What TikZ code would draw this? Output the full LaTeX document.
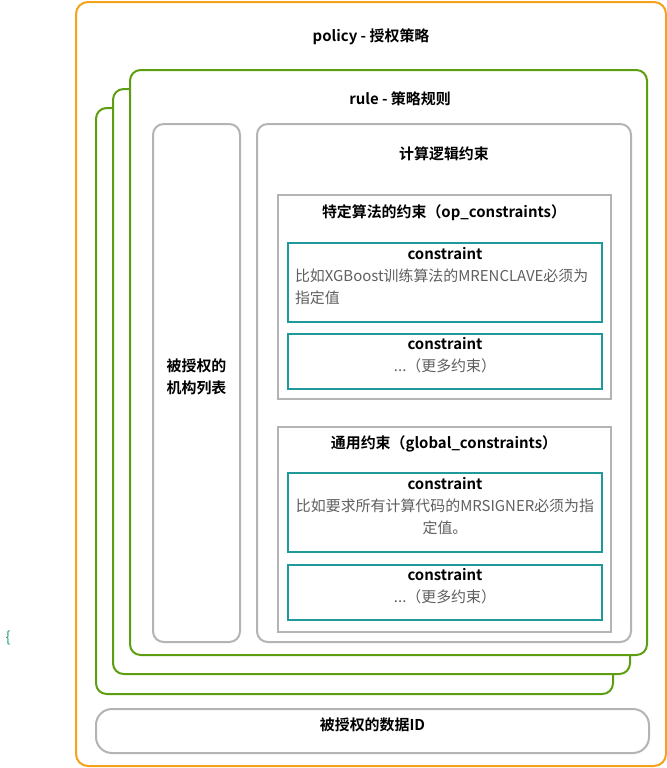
\documentclass[tikz,border=0pt]{standalone}
\usepackage{fontspec}
\setmainfont{Noto Sans CJK SC}[BoldFont={Noto Sans CJK SC Bold}]
\definecolor{OrangePolicy}{HTML}{F5A21B}
\definecolor{VertRule}{HTML}{5C9E10}
\definecolor{GrisCadre}{HTML}{B4B4B4}
\definecolor{BleuCanard}{HTML}{1F9999}
\definecolor{GrisTexte}{HTML}{5F5F5F}
\definecolor{VertAccolade}{HTML}{1FA06A}
\usepackage{tikz}
\usetikzlibrary{fit}
\usetikzlibrary{positioning}
\newcommand{\constrainthead}{\rule{0pt}{14pt}\textcolor{black}{\bfseries constraint}}

\begin{document}
\begin{tikzpicture}
	[x=0.75pt, y=-0.75pt,
	every node/.style = {inner sep=0pt, font=\fontsize{11.2pt}{16.5pt}\selectfont},
	policybox/.style = {draw=OrangePolicy, line width=1.5pt, rounded corners=9pt, fill=white},
	rulebox/.style = {draw=VertRule, line width=1.5pt, rounded corners=8pt, fill=white},
	graybox/.style = {draw=GrisCadre, line width=1.5pt, rounded corners=8pt, fill=white},
	groupbox/.style = {draw=GrisCadre, line width=1.2pt, fill=white},
	constraintbox/.style = {draw=BleuCanard, line width=1.5pt, fill=white, text=GrisTexte, align=center},
	heading/.style = {font=\fontsize{11.2pt}{16.5pt}\selectfont\bfseries, align=center}]
	\useasboundingbox (0,0) rectangle (667,768);
	% policy
	\node[policybox, fit={(76,2) (666,766)}] (policy) {};
	\node[heading] (policytitle) at (371,37) {policy - 授权策略};
	% stacked rules
	\node[rulebox, fit={(96,108) (613,694)}] (rulethree) {};
	\node[rulebox, fit={(113,89) (630,674)}] (ruletwo) {};
	\node[rulebox, fit={(130,70) (647,655)}] (rule) {};
	\node[heading] (ruletitle) at (400,99) {rule - 策略规则};
	% authorized parties
	\node[graybox, heading, fit={(153,124) (240,642)}] (parties) {被授权的\\机构列表};
	% computation constraints
	\node[graybox, fit={(257,124) (631,642)}] (compute) {};
	\node[heading] (computetitle) at (444,154) {计算逻辑约束};
	\node[groupbox, fit={(278,195) (611,399)}] (opgroup) {};
	\node[heading] (optitle) at (444,213) {特定算法的约束（op\_constraints）};
	\node[constraintbox, fit={(288,243) (602,322)}] (opfirst)
		{\constrainthead\\
		\makebox[225pt][l]{比如XGBoost训练算法的MRENCLAVE必须为}\\\makebox[225pt][l]{指定值}};
	\node[constraintbox, fit={(288,334) (602,389)}] (opmore)
		{\constrainthead\\...（更多约束）};
	\node[groupbox, fit={(278,427) (611,632)}] (globalgroup) {};
	\node[heading] (globaltitle) at (444,444) {通用约束（global\_constraints）};
	\node[constraintbox, fit={(288,473) (602,552)}] (globalfirst)
		{\constrainthead\\比如要求所有计算代码的MRSIGNER必须为指\\定值。};
	\node[constraintbox, fit={(288,565) (602,620)}] (globalmore)
		{\constrainthead\\...（更多约束）};
	% authorized data
	\node[graybox, rounded corners=12pt, heading, fit={(96,709) (649,753)}] (dataid) {被授权的数据ID};
	\node[text=VertAccolade, font=\fontsize{11pt}{11pt}\selectfont] (accolade) at (8,638) {\{};
\end{tikzpicture}
\end{document}
